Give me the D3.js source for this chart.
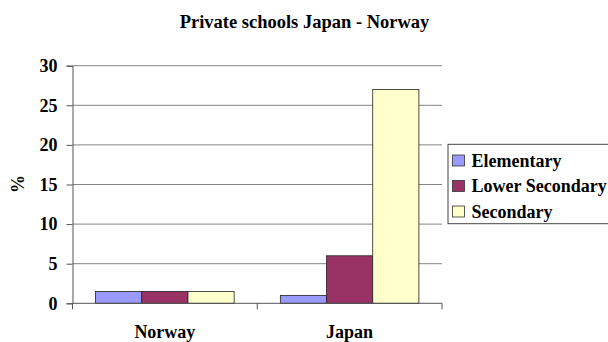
<!DOCTYPE html>
<html>
<head>
<meta charset="utf-8">
<script src="https://cdn.jsdelivr.net/npm/d3@7"></script>
<style>
  body { margin: 0; background: #fff; }
</style>
</head>
<body>
<svg id="chart" width="608" height="342"></svg>
<script>
// data
const countries = ["Norway", "Japan"];
const levels = ["Elementary", "Lower Secondary", "Secondary"];
const elementary = [1.5, 1.0];
const lowerSecondary = [1.5, 6.0];
const secondary = [1.5, 27.0];
const yTicks = [0, 5, 10, 15, 20, 25, 30];
const colors = ["#9999ff", "#993366", "#ffffcc"];

const seriesValues = [elementary, lowerSecondary, secondary];
const FONT = "'Liberation Serif', 'Times New Roman', serif";

let svg = d3.select("#chart");

// plot area
const plotLeft = 72.5, plotRight = 442, plotTop = 65.7, plotBottom = 303.3;

let x0 = d3.scaleBand().domain(countries).range([plotLeft, plotRight]).paddingInner(0).paddingOuter(0);
let x1 = d3.scaleBand().domain(levels).range([0, x0.bandwidth()]).paddingInner(0).paddingOuter(0.5);
let y = d3.scaleLinear().domain([0, 30]).range([plotBottom, plotTop]);

function label(sel, size) {
    return sel.style("font-family", FONT)
        .style("font-weight", "bold")
        .style("font-size", size + "px")
        .attr("fill", "#000");
}

// title
svg.append("text")
    .attr("x", 304.5)
    .attr("y", 27.5)
    .attr("text-anchor", "middle")
    .call(label, 18.5)
    .text("Private schools Japan - Norway");

// gridlines
svg.append("g")
    .selectAll("line")
    .data(yTicks.filter(d => d > 0))
    .enter().append("line")
    .attr("x1", plotLeft).attr("x2", plotRight)
    .attr("y1", d => y(d)).attr("y2", d => y(d))
    .attr("stroke", "#858585")
    .attr("stroke-width", 1);

// y axis
let yAxis = svg.append("g")
    .attr("transform", `translate(${plotLeft},0)`)
    .call(d3.axisLeft(y).tickValues(yTicks).tickSize(6).tickPadding(9));
yAxis.select(".domain").attr("stroke", "#555");
yAxis.selectAll(".tick line").attr("stroke", "#555");
yAxis.selectAll(".tick text").call(label, 18);

// y axis label
svg.append("text")
    .attr("transform", "translate(24,184) rotate(-90)")
    .attr("text-anchor", "middle")
    .call(label, 18)
    .text("%");

// bars
let groups = svg.append("g")
    .selectAll("g")
    .data(countries)
    .enter().append("g")
    .attr("transform", d => `translate(${x0(d)},0)`);

groups.selectAll("rect")
    .data((c, ci) => levels.map((l, li) => ({ level: l, value: seriesValues[li][ci], color: colors[li] })))
    .enter().append("rect")
    .attr("x", d => x1(d.level))
    .attr("y", d => y(d.value))
    .attr("width", x1.bandwidth())
    .attr("height", d => y(0) - y(d.value))
    .attr("fill", d => d.color)
    .attr("stroke", "#222")
    .attr("stroke-width", 0.8);

// x axis with boundary ticks
let xAxisG = svg.append("g");
xAxisG.append("line")
    .attr("x1", plotLeft).attr("x2", plotRight)
    .attr("y1", plotBottom).attr("y2", plotBottom)
    .attr("stroke", "#555");
const boundaries = [x0(countries[0]), x0(countries[1]), x0(countries[1]) + x0.bandwidth()];
xAxisG.selectAll(".bt")
    .data(boundaries)
    .enter().append("line")
    .attr("class", "bt")
    .attr("x1", d => d).attr("x2", d => d)
    .attr("y1", plotBottom).attr("y2", plotBottom + 6)
    .attr("stroke", "#555");
xAxisG.selectAll("text")
    .data(countries)
    .enter().append("text")
    .attr("x", d => x0(d) + x0.bandwidth() / 2)
    .attr("y", 338)
    .attr("text-anchor", "middle")
    .call(label, 18)
    .text(d => d);

// legend
let legend = svg.append("g");
legend.append("rect")
    .attr("x", 448).attr("y", 144.3)
    .attr("width", 170).attr("height", 79.4)
    .attr("fill", "#fff")
    .attr("stroke", "#444")
    .attr("stroke-width", 1);

let items = legend.selectAll(".item")
    .data(levels)
    .enter().append("g")
    .attr("class", "item")
    .attr("transform", (d, i) => `translate(452.5,${160.5 + i * 25.5})`);
items.append("rect")
    .attr("x", 0).attr("y", -5.5)
    .attr("width", 12).attr("height", 11)
    .attr("fill", (d, i) => colors[i])
    .attr("stroke", "#333")
    .attr("stroke-width", 0.8);
items.append("text")
    .attr("x", 19)
    .attr("y", 6)
    .call(label, 18)
    .text(d => d);
</script>
</body>
</html>
